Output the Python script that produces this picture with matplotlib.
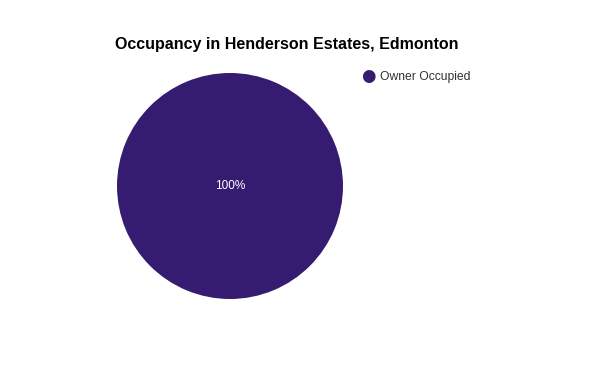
import matplotlib.pyplot as plt

plt.rcParams['font.family'] = ['Liberation Sans', 'DejaVu Sans']

labels = ['Owner Occupied']
values = [100]
colors = ['#351c71']

W, H = 600, 371
fig = plt.figure(figsize=(6, 3.71), dpi=100)

# pie axes: center ~ (230,186), radius ~113 px
cx, cy, r = 230, 186, 113
ax = fig.add_axes([(cx - r) / W, (H - cy - r) / H, 2 * r / W, 2 * r / H])
wedges, texts, autotexts = ax.pie(values, colors=colors, startangle=90,
                                  autopct='%1.0f%%', pctdistance=0.0,
                                  radius=1.0, textprops={'color': 'white', 'fontsize': 8.5})
ax.set_xlim(-1, 1)
ax.set_ylim(-1, 1)
ax.set_aspect('equal')

fig.text(287 / W, 1 - 45 / H, 'Occupancy in Henderson Estates, Edmonton',
         ha='center', va='center', fontsize=11.5, fontweight='bold')

# legend
for i, (lab, col) in enumerate(zip(labels, colors)):
    y = 1 - (76 + i * 20) / H
    fig.text(368 / W, y, '\u25CF', color=col, fontsize=12, ha='center', va='center',
             family=['DejaVu Sans'])
    fig.text(380 / W, y - 1.0 / H, lab, color='#333333', fontsize=8.7, ha='left', va='center')

fig.savefig('out.png', dpi=100)
